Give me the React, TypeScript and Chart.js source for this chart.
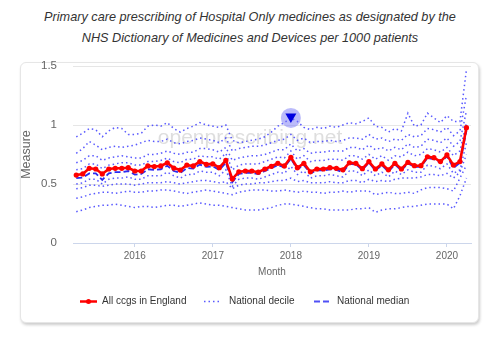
import React, { useEffect, useRef } from "react";
import { Chart, registerables } from "chart.js";

Chart.register(...registerables);

const TITLE_LINES = [
  "Primary care prescribing of Hospital Only medicines as designated by the",
  "NHS Dictionary of Medicines and Devices per 1000 patients",
];
const X_TITLE = "Month";
const Y_TITLE = "Measure";
const WATERMARK = "openprescribing.net";

const START_YEAR = 2015;
const START_MONTH = 4;
const MONTH_COUNT = 61;
const MONTHS: string[] = [];
for (let i = 0; i < MONTH_COUNT; i++) {
  const m = START_MONTH - 1 + i;
  const y = START_YEAR + Math.floor(m / 12);
  const mm = (m % 12) + 1;
  MONTHS.push(`${y}-${mm < 10 ? "0" + mm : mm}`);
}

const YEAR_TICK_MONTHS = ["2016-01", "2017-01", "2018-01", "2019-01", "2020-01"];
const YEAR_TICK_LABELS = ["2016", "2017", "2018", "2019", "2020"];
const Y_TICKS = [0, 0.5, 1, 1.5];
const Y_TICK_LABELS = ["0", "0.5", "1", "1.5"];

const FLAG_MONTH = "2018-01";
const FLAG_VALUE = 1.06;

const ALL_CCGS = [
  0.576, 0.585, 0.633, 0.627, 0.585, 0.627, 0.633, 0.633, 0.638, 0.61,
  0.61, 0.653, 0.648, 0.653, 0.68, 0.635, 0.618, 0.66, 0.653, 0.69,
  0.667, 0.67, 0.638, 0.7, 0.542, 0.604, 0.61, 0.61, 0.6, 0.627,
  0.65, 0.675, 0.653, 0.726, 0.638, 0.675, 0.604, 0.627, 0.627, 0.638,
  0.633, 0.62, 0.68, 0.675, 0.63, 0.69, 0.627, 0.67, 0.62, 0.675,
  0.627, 0.684, 0.655, 0.655, 0.731, 0.723, 0.69, 0.746, 0.66, 0.69,
  0.977,
];

const MEDIAN = [
  0.55, 0.555, 0.59, 0.59, 0.535, 0.59, 0.6, 0.6, 0.61, 0.58,
  0.585, 0.625, 0.62, 0.625, 0.655, 0.61, 0.595, 0.635, 0.63, 0.665,
  0.645, 0.65, 0.62, 0.68, 0.515, 0.585, 0.595, 0.595, 0.585, 0.61,
  0.635, 0.66, 0.64, 0.715, 0.625, 0.66, 0.59, 0.615, 0.615, 0.625,
  0.62, 0.6, 0.67, 0.665, 0.62, 0.68, 0.615, 0.66, 0.605, 0.665,
  0.615, 0.675, 0.645, 0.645, 0.72, 0.71, 0.68, 0.735, 0.635, 0.68,
  0.95,
];

const DECILE_10 = [
  0.265, 0.28, 0.3, 0.31, 0.32, 0.32, 0.33, 0.32, 0.31, 0.3,
  0.31, 0.31, 0.3, 0.31, 0.32, 0.32, 0.31, 0.32, 0.33, 0.34,
  0.33, 0.32, 0.32, 0.31, 0.3, 0.29, 0.28, 0.28, 0.28, 0.29,
  0.3, 0.32, 0.33, 0.33, 0.32, 0.31, 0.3, 0.29, 0.29, 0.28,
  0.28, 0.28, 0.28, 0.29, 0.29, 0.3, 0.26, 0.28, 0.29, 0.29,
  0.3, 0.31, 0.31, 0.32, 0.33, 0.33, 0.33, 0.33, 0.29, 0.4,
  0.55,
];
const DECILE_20 = [
  0.38, 0.39, 0.41, 0.42, 0.43, 0.43, 0.42, 0.43, 0.44, 0.43,
  0.43, 0.44, 0.44, 0.45, 0.45, 0.44, 0.43, 0.42, 0.43, 0.44,
  0.45, 0.44, 0.43, 0.42, 0.41, 0.43, 0.44, 0.45, 0.45, 0.45,
  0.44, 0.44, 0.45, 0.44, 0.43, 0.44, 0.43, 0.43, 0.42, 0.43,
  0.43, 0.44, 0.43, 0.44, 0.44, 0.44, 0.41, 0.42, 0.43, 0.42,
  0.42, 0.43, 0.42, 0.45, 0.47, 0.47, 0.47, 0.46, 0.44, 0.55,
  0.66,
];
const DECILE_30 = [
  0.46, 0.47, 0.49, 0.49, 0.48, 0.49, 0.5, 0.5, 0.5, 0.49,
  0.5, 0.51, 0.51, 0.51, 0.52, 0.51, 0.5, 0.51, 0.52, 0.53,
  0.53, 0.52, 0.51, 0.52, 0.46, 0.49, 0.5, 0.5, 0.51, 0.51,
  0.52, 0.53, 0.53, 0.55, 0.52, 0.53, 0.51, 0.51, 0.51, 0.52,
  0.51, 0.51, 0.53, 0.53, 0.51, 0.54, 0.52, 0.53, 0.52, 0.54,
  0.55, 0.55, 0.55, 0.56, 0.58, 0.58, 0.57, 0.59, 0.55, 0.6,
  0.75,
];
const DECILE_40 = [
  0.5, 0.51, 0.54, 0.54, 0.5, 0.54, 0.55, 0.55, 0.56, 0.54,
  0.54, 0.57, 0.57, 0.57, 0.6, 0.57, 0.55, 0.58, 0.58, 0.61,
  0.6, 0.6, 0.57, 0.62, 0.48, 0.54, 0.55, 0.55, 0.54, 0.56,
  0.58, 0.6, 0.59, 0.65, 0.58, 0.61, 0.55, 0.57, 0.57, 0.58,
  0.57, 0.56, 0.61, 0.61, 0.57, 0.62, 0.57, 0.6, 0.56, 0.61,
  0.58, 0.62, 0.6, 0.6, 0.66, 0.65, 0.63, 0.67, 0.59, 0.62,
  0.85,
];
const DECILE_60 = [
  0.62, 0.63, 0.67, 0.67, 0.63, 0.66, 0.67, 0.68, 0.68, 0.66,
  0.66, 0.69, 0.69, 0.7, 0.72, 0.69, 0.68, 0.71, 0.71, 0.74,
  0.73, 0.73, 0.71, 0.76, 0.62, 0.66, 0.67, 0.67, 0.67, 0.69,
  0.71, 0.73, 0.72, 0.78, 0.71, 0.74, 0.69, 0.7, 0.7, 0.71,
  0.71, 0.7, 0.74, 0.74, 0.71, 0.75, 0.71, 0.74, 0.7, 0.74,
  0.73, 0.77, 0.74, 0.75, 0.8, 0.79, 0.77, 0.81, 0.74, 0.78,
  1.02,
];
const DECILE_70 = [
  0.68, 0.7, 0.74, 0.74, 0.7, 0.72, 0.73, 0.74, 0.73, 0.72,
  0.72, 0.75, 0.75, 0.76, 0.78, 0.76, 0.75, 0.77, 0.77, 0.8,
  0.8, 0.79, 0.77, 0.81, 0.7, 0.72, 0.73, 0.74, 0.74, 0.75,
  0.77, 0.79, 0.79, 0.84, 0.78, 0.8, 0.76, 0.77, 0.77, 0.78,
  0.78, 0.78, 0.81, 0.81, 0.79, 0.83, 0.79, 0.81, 0.78, 0.81,
  0.79, 0.84, 0.81, 0.82, 0.88, 0.87, 0.85, 0.89, 0.82, 0.86,
  1.12,
];
const DECILE_80 = [
  0.76, 0.8, 0.86, 0.83, 0.79, 0.81, 0.82, 0.81, 0.82, 0.83,
  0.85, 0.87, 0.86, 0.86, 0.88, 0.85, 0.84, 0.86, 0.87, 0.89,
  0.88, 0.87, 0.85, 0.89, 0.78, 0.8, 0.81, 0.82, 0.82, 0.83,
  0.85, 0.87, 0.88, 0.92, 0.87, 0.89, 0.85, 0.86, 0.86, 0.87,
  0.86, 0.87, 0.89, 0.89, 0.88, 0.92, 0.88, 0.89, 0.86, 0.88,
  0.87, 0.92, 0.9, 0.91, 0.97, 0.96, 0.94, 0.98, 0.91, 0.95,
  1.25,
];
const DECILE_90 = [
  0.9, 0.93, 0.97, 0.96, 0.9, 0.95, 0.98, 0.97, 0.92, 0.92,
  0.93, 0.99, 1.0, 0.99, 1.02, 0.97, 0.94, 0.97, 0.99, 1.02,
  1.0, 0.99, 0.98, 1.0, 0.87, 0.85, 0.86, 0.87, 0.88, 0.9,
  0.94, 0.99, 1.02, 1.06, 1.03, 0.98, 0.96, 0.98, 0.97, 0.99,
  0.98, 1.0, 1.02, 1.01, 1.03, 1.06, 0.99, 0.98, 0.94, 0.97,
  0.95, 1.1, 0.99, 1.0, 1.1, 1.06, 1.02, 1.08, 1.03, 1.03,
  1.47,
];

const DECILES = [DECILE_10, DECILE_20, DECILE_30, DECILE_40, DECILE_60, DECILE_70, DECILE_80, DECILE_90];

const LEGEND_LABELS = ["All ccgs in England", "National decile", "National median"];

const RED = "#ff0000";
const DECILE_COLOR = "rgba(60, 60, 255, 0.85)";
const MEDIAN_COLOR = "#2a2af0";
const FONT = "'Liberation Sans', Arial, sans-serif";

const toPoints = (arr: number[]) => arr.map((v, i) => ({ x: i, y: v }));

const overlayPlugin = {
  id: "overlay",
  beforeDatasetsDraw(chart: any) {
    const { ctx, chartArea } = chart;
    ctx.save();
    ctx.font = `21px ${FONT}`;
    ctx.fillStyle = "rgba(160,160,160,0.35)";
    ctx.textAlign = "center";
    ctx.textBaseline = "middle";
    ctx.fillText(WATERMARK, (chartArea.left + chartArea.right) / 2 - 22, 138);
    ctx.restore();
  },
  afterDatasetsDraw(chart: any) {
    const { ctx, scales } = chart;
    const x = scales.x.getPixelForValue(MONTHS.indexOf(FLAG_MONTH));
    const y = scales.y.getPixelForValue(FLAG_VALUE);
    ctx.save();
    ctx.beginPath();
    ctx.arc(x, y, 10, 0, Math.PI * 2);
    ctx.fillStyle = "rgba(120,120,245,0.5)";
    ctx.fill();
    ctx.beginPath();
    ctx.moveTo(x - 5.5, y - 4.5);
    ctx.lineTo(x + 5.5, y - 4.5);
    ctx.lineTo(x, y + 5);
    ctx.closePath();
    ctx.fillStyle = "#0000e0";
    ctx.fill();
    ctx.restore();
  },
  afterDraw(chart: any) {
    const { ctx } = chart;
    const y = 301.5;
    ctx.save();
    ctx.font = `10px ${FONT}`;
    ctx.fillStyle = "#333";
    ctx.textBaseline = "middle";
    ctx.textAlign = "left";
    ctx.strokeStyle = RED;
    ctx.lineWidth = 2.5;
    ctx.beginPath();
    ctx.moveTo(80, y);
    ctx.lineTo(97, y);
    ctx.stroke();
    ctx.beginPath();
    ctx.arc(88.5, y, 2.5, 0, Math.PI * 2);
    ctx.fillStyle = RED;
    ctx.fill();
    ctx.fillStyle = "#333";
    ctx.fillText(LEGEND_LABELS[0], 102, y);
    ctx.strokeStyle = DECILE_COLOR;
    ctx.lineWidth = 1.5;
    ctx.setLineDash([1.5, 3]);
    ctx.beginPath();
    ctx.moveTo(204, y);
    ctx.lineTo(221, y);
    ctx.stroke();
    ctx.fillText(LEGEND_LABELS[1], 229, y);
    ctx.strokeStyle = "#5050f5";
    ctx.lineWidth = 1.8;
    ctx.setLineDash([6, 3]);
    ctx.beginPath();
    ctx.moveTo(314, y);
    ctx.lineTo(331, y);
    ctx.stroke();
    ctx.setLineDash([]);
    ctx.fillText(LEGEND_LABELS[2], 337, y);
    ctx.restore();
  },
};

export default function App() {
  const canvasRef = useRef<HTMLCanvasElement | null>(null);

  useEffect(() => {
    const canvas = canvasRef.current;
    if (!canvas) return;
    const datasets: any[] = [
      {
        label: LEGEND_LABELS[0],
        data: toPoints(ALL_CCGS),
        borderColor: RED,
        backgroundColor: RED,
        borderWidth: 2.6,
        pointRadius: 2.6,
        pointBorderWidth: 0,
        pointBackgroundColor: RED,
        tension: 0,
      },
      {
        label: LEGEND_LABELS[2],
        data: toPoints(MEDIAN),
        borderColor: MEDIAN_COLOR,
        borderWidth: 1.8,
        borderDash: [6, 3],
        pointRadius: 0,
        tension: 0,
      },
      ...DECILES.map((d) => ({
        label: LEGEND_LABELS[1],
        data: toPoints(d),
        borderColor: DECILE_COLOR,
        borderWidth: 1.5,
        borderDash: [1.5, 3],
        pointRadius: 0,
        tension: 0,
      })),
    ];

    const tickIdx = YEAR_TICK_MONTHS.map((m) => MONTHS.indexOf(m));

    const chart = new Chart(canvas, {
      type: "line",
      data: { datasets },
      plugins: [overlayPlugin],
      options: {
        responsive: false,
        animation: false,
        devicePixelRatio: 1,
        events: [],
        layout: { padding: { top: 66, right: 29, bottom: 66, left: 0 } },
        plugins: {
          legend: { display: false },
          tooltip: { enabled: false },
          title: { display: false },
        },
        scales: {
          x: {
            type: "linear",
            min: -0.5,
            max: MONTH_COUNT - 0.3,
            afterBuildTicks: (scale: any) => {
              scale.ticks = tickIdx.map((v) => ({ value: v }));
            },
            afterFit: (scale: any) => {
              scale.height = 40;
            },
            ticks: {
              autoSkip: false,
              maxRotation: 0,
              padding: 3,
              color: "#666",
              font: { family: FONT, size: 10 },
              callback: (value: any) => {
                const k = tickIdx.indexOf(Number(value));
                return k >= 0 ? YEAR_TICK_LABELS[k] : "";
              },
            },
            grid: {
              display: true,
              drawOnChartArea: false,
              drawTicks: true,
              tickLength: 4,
              color: "#ccd6eb",
            },
            border: { display: true, color: "#ccd6eb", width: 1 },
            title: {
              display: true,
              text: X_TITLE,
              color: "#666",
              font: { family: FONT, size: 10 },
              padding: { top: 0, bottom: 5 },
            },
          },
          y: {
            type: "linear",
            min: 0,
            max: 1.5,
            afterBuildTicks: (scale: any) => {
              scale.ticks = Y_TICKS.map((v) => ({ value: v }));
            },
            afterFit: (scale: any) => {
              scale.width = 73;
            },
            ticks: {
              padding: 16,
              color: "#666",
              font: { family: FONT, size: 11.5 },
              callback: (value: any) => {
                const k = Y_TICKS.indexOf(Number(value));
                return k >= 0 ? Y_TICK_LABELS[k] : "";
              },
            },
            grid: { color: "#e6e6e6", drawTicks: false },
            border: { display: false },
            title: {
              display: true,
              text: Y_TITLE,
              color: "#666",
              font: { family: FONT, size: 12.5 },
              padding: { top: 19.5, bottom: 0 },
            },
          },
        },
      },
    } as any);
    return () => chart.destroy();
  }, []);

  return (
    <div style={{ position: "fixed", left: 0, top: 0, width: 500, height: 349, background: "#fff", overflow: "hidden" }}>
      <div
        style={{
          position: "absolute",
          left: 20,
          top: 62,
          width: 459,
          height: 261,
          boxSizing: "border-box",
          border: "1px solid #e6e6e6",
          borderRadius: 6,
          boxShadow: "1px 2px 3px rgba(0,0,0,0.2)",
          background: "#fff",
        }}
      />
      <div
        style={{
          position: "absolute",
          left: 0,
          top: 7,
          width: 500,
          textAlign: "center",
          fontFamily: FONT,
          fontStyle: "italic",
          fontSize: "12.7px",
          lineHeight: "20.7px",
          color: "#333",
        }}
      >
        {TITLE_LINES[0]}
        <br />
        {TITLE_LINES[1]}
      </div>
      <canvas
        ref={canvasRef}
        width={500}
        height={349}
        style={{ position: "absolute", left: 0, top: 0, width: 500, height: 349 }}
      />
    </div>
  );
}
